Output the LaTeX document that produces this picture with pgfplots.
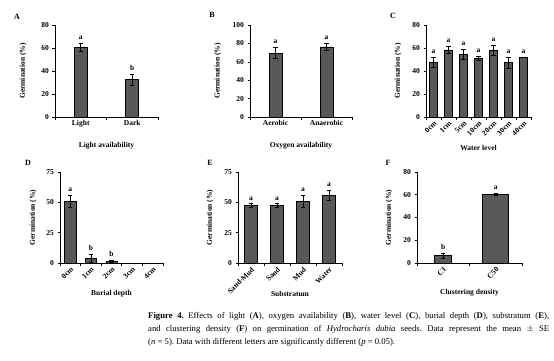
\documentclass[border=0pt]{standalone}
\usepackage{fontspec}
\setmainfont{Liberation Serif}
\usepackage{pgfplots}
\pgfplotsset{compat=1.18}
\frenchspacing
\definecolor{barfill}{RGB}{88,88,88}
\pgfplotsset{
  panel/.style={
    scale only axis,
    anchor=south west,
    axis lines*=left,
    axis line style={-, line width=0.7pt, black},
    ymin=0,
    tick align=outside,
    major tick length=2.5pt,
    minor tick length=3pt,
    major x tick style={draw=none},
    minor x tick style={black, line width=0.6pt},
    major y tick style={black, line width=0.6pt},
    font=\bfseries\fontsize{7.5}{9}\selectfont,
    /pgf/number format/assume math mode=true,
    ylabel={Germination (\%)},
    xticklabel style={inner sep=1pt},
    every axis y label/.append style={anchor=center},
    every axis x label/.append style={anchor=center},
  },
  bars/.style={
    ybar, bar shift=0pt, fill=barfill, draw=black, line width=0.6pt,
    error bars/.cd, y dir=both, y explicit,
    error bar style={line width=0.6pt, black},
    error mark options={rotate=90, mark size=2.2pt, line width=0.6pt, black},
    /pgfplots/.cd,
  },
  letters/.style={
    draw=none, mark=none, nodes near coords, point meta=explicit symbolic,
    nodes near coords style={anchor=south, inner sep=1pt, yshift=2.5pt, black},
  },
  rotlab/.style={xticklabel style={rotate=45, anchor=north east, inner sep=0.5pt}},
}
\begin{document}
\begin{tikzpicture}[x=1pt,y=1pt]
\path[use as bounding box] (0,0) rectangle (554,360);
% Panel letters
\begin{scope}[font=\bfseries\fontsize{8}{9}\selectfont]
\node at (17,343) {A};
\node at (212,345) {B};
\node at (393,344) {C};
\node at (28,197) {D};
\node at (210,197) {E};
\node at (388,197) {F};
\end{scope}

% A
\begin{axis}[panel, at={(55pt,243pt)}, width=103pt, height=92pt,
  xmin=-0.5, xmax=1.5, ymax=80, ytick={0,20,40,60,80},
  xtick={0,1}, xticklabels={Light,Dark}, minor xtick={-0.5,0.5,1.5},
  xlabel={Light availability},
  ylabel style={at={(axis description cs:-0.31,0.5)}},
  xlabel style={at={(axis description cs:0.5,-0.315)}}]
\addplot[bar width=13pt, bars] coordinates {(0,60.5) +- (0,3.8) (1,32.5) +- (0,5)};
\addplot[letters] coordinates {(0,64.3)[a] (1,37.5)[b]};
\end{axis}

% B
\begin{axis}[panel, at={(250pt,243pt)}, width=102pt, height=92pt,
  xmin=-0.5, xmax=1.5, ymax=100, ytick={0,20,40,60,80,100},
  xtick={0,1}, xticklabels={Aerobic,Anaerobic}, minor xtick={-0.5,0.5,1.5},
  xlabel={Oxygen availability},
  ylabel style={at={(axis description cs:-0.315,0.5)}},
  xlabel style={at={(axis description cs:0.5,-0.315)}}]
\addplot[bar width=13pt, bars] coordinates {(0,69.3) +- (0,6) (1,76.2) +- (0,4)};
\addplot[letters] coordinates {(0,75.3)[a] (1,80.2)[a]};
\end{axis}

% C
\begin{axis}[panel, rotlab, at={(426pt,243pt)}, width=105pt, height=92pt,
  xmin=-0.5, xmax=6.5, ymax=80, ytick={0,20,40,60,80},
  xtick={0,...,6}, xticklabels={0cm,1cm,5cm,10cm,20cm,30cm,40cm},
  minor xtick={-0.5,0.5,...,6.5},
  xlabel={Water level},
  ylabel style={at={(axis description cs:-0.267,0.5)}},
  xlabel style={at={(axis description cs:0.5,-0.337)}}]
\addplot[bar width=8pt, bars] coordinates {
  (0,47.7) +- (0,4.5) (1,58.3) +- (0,3.2) (2,54.6) +- (0,4.4)
  (3,51.1) +- (0,1.6) (4,57.8) +- (0,4.2) (5,47.4) +- (0,4.8) (6,52) +- (0,0)};
\addplot[letters] coordinates {(0,52.2)[a] (1,61.5)[a] (2,59)[a] (3,52.7)[a] (4,62)[a] (5,52.2)[a] (6,52)[a]};
\end{axis}

% D
\begin{axis}[panel, rotlab, at={(60pt,97pt)}, width=103pt, height=91pt,
  xmin=-0.5, xmax=4.5, ymax=75, ytick={0,25,50,75},
  xtick={0,...,4}, xticklabels={0cm,1cm,2cm,3cm,4cm},
  minor xtick={-0.5,0.5,...,4.5},
  xlabel={Burial depth},
  ylabel style={at={(axis description cs:-0.262,0.5)}},
  xlabel style={at={(axis description cs:0.5,-0.34)}}]
\addplot[bar width=11pt, bars] coordinates {
  (0,51) +- (0,5.2) (1,3.8) +- (0,3) (2,1.1) +- (0,0.8) (3,0) +- (0,0) (4,0) +- (0,0)};
\addplot[letters] coordinates {(0,56.2)[a] (1,6.8)[b] (2,1.9)[b]};
\end{axis}

% E
\begin{axis}[panel, rotlab, at={(238pt,97pt)}, width=104pt, height=91pt,
  xmin=-0.5, xmax=3.5, ymax=75, ytick={0,25,50,75},
  xtick={0,...,3}, xticklabels={Sand-Mud,Sand,Mud,Water},
  minor xtick={-0.5,0.5,...,3.5},
  xlabel={Substratum},
  ylabel style={at={(axis description cs:-0.269,0.5)}},
  xlabel style={at={(axis description cs:0.5,-0.34)}}]
\addplot[bar width=13pt, bars] coordinates {
  (0,47.5) +- (0,1.3) (1,47.5) +- (0,1.3) (2,50.5) +- (0,5) (3,55.9) +- (0,4.2)};
\addplot[letters] coordinates {(0,48.8)[a] (1,48.8)[a] (2,55.5)[a] (3,60.1)[a]};
\end{axis}

% F
\begin{axis}[panel, rotlab, at={(417pt,97pt)}, width=105pt, height=91pt,
  xmin=-0.5, xmax=1.5, ymax=80, ytick={0,20,40,60,80},
  xtick={0,1}, xticklabels={C1,C50},
  minor xtick={-0.5,0.5,1.5},
  xlabel={Clustering density},
  ylabel style={at={(axis description cs:-0.267,0.5)}},
  xlabel style={at={(axis description cs:0.5,-0.33)}}]
\addplot[bar width=17pt, bars] coordinates {(0,6.4) +- (0,2.4)};
\addplot[bar width=26pt, bars] coordinates {(1,60.2) +- (0,0.8)};
\addplot[letters] coordinates {(0,8.8)[b] (1,61)[a]};
\end{axis}

% Caption
\begin{scope}[font=\fontsize{8.7}{10}\selectfont]
\node[anchor=base west, inner sep=0pt] at (148,41.5) {\makebox[401pt][s]{\textbf{Figure 4.} Effects of light (\textbf{A}), oxygen availability (\textbf{B}), water level (\textbf{C}), burial depth (\textbf{D}), substratum (\textbf{E}),}};
\node[anchor=base west, inner sep=0pt] at (148,28.5) {\makebox[401pt][s]{and clustering density (\textbf{F}) on germination of \textit{Hydrocharis dubia} seeds. Data represent the mean $\pm$ SE}};
\node[anchor=base west, inner sep=0pt] at (148,15.5) {(\textit{n} = 5). Data with different letters are significantly different (\textit{p} = 0.05).};
\end{scope}
\end{tikzpicture}
\end{document}
